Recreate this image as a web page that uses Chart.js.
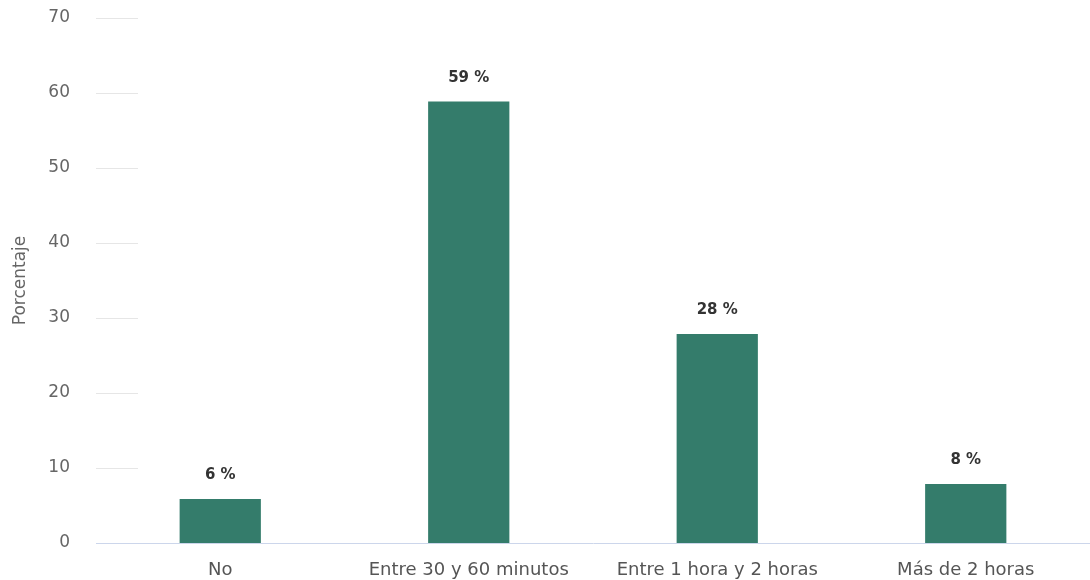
<!DOCTYPE html>
<html>
<head>
<meta charset="utf-8">
<script src="https://cdn.jsdelivr.net/npm/chart.js@4.4.1/dist/chart.umd.min.js"></script>
<style>
    html, body { margin: 0; padding: 0; background: #fff; }
    #wrap { width: 1090px; height: 580px; position: relative; }
</style>
</head>
<body>
<div id="wrap"><canvas id="chart"></canvas></div>
<script>
const categories = ['No', 'Entre 30 y 60 minutos', 'Entre 1 hora y 2 horas', 'Más de 2 horas'];
const percentages = [6, 59, 28, 8];
const yTicks = [0, 10, 20, 30, 40, 50, 60, 70];

const fontFamily = '"DejaVu Sans", Verdana, sans-serif';

// short grid stubs at the left edge of the plot, one per y tick
const gridStubs = {
    id: 'gridStubs',
    beforeDatasetsDraw(chart) {
        const ctx = chart.ctx;
        const y = chart.scales.y;
        const left = chart.chartArea.left;
        ctx.save();
        ctx.strokeStyle = '#e6e6e6';
        ctx.lineWidth = 1;
        yTicks.forEach(v => {
            if (v === 0) return;
            const py = Math.round(y.getPixelForValue(v)) + 0.5;
            ctx.beginPath();
            ctx.moveTo(left, py);
            ctx.lineTo(left + 42, py);
            ctx.stroke();
        });
        ctx.restore();
    }
};

// value labels above each bar
const barLabels = {
    id: 'barLabels',
    afterDatasetsDraw(chart) {
        const ctx = chart.ctx;
        const meta = chart.getDatasetMeta(0);
        ctx.save();
        ctx.font = 'bold 15px ' + fontFamily;
        ctx.fillStyle = '#333333';
        ctx.textAlign = 'center';
        ctx.textBaseline = 'bottom';
        meta.data.forEach((bar, i) => {
            ctx.fillText(percentages[i] + ' %', bar.x, bar.y - 15);
        });
        ctx.restore();
    }
};

const ctx = document.getElementById('chart').getContext('2d');
const chart = new Chart(ctx, {
    type: 'bar',
    data: {
        labels: categories,
        datasets: [{
            data: percentages,
            backgroundColor: '#347c6b',
            borderColor: 'rgba(255,255,255,0.35)',
            borderWidth: 1,
            barPercentage: 0.335,
            categoryPercentage: 1
        }]
    },
    options: {
        responsive: true,
        maintainAspectRatio: false,
        animation: false,
        layout: { padding: { top: 18, right: 0, left: 0, bottom: 0 } },
        plugins: {
            legend: { display: false },
            tooltip: { enabled: false }
        },
        scales: {
            x: {
                afterFit: s => { s.height = 37; s.paddingLeft = 0; s.paddingRight = 0; },
                grid: { display: false },
                border: { color: '#ccd6eb', width: 1 },
                ticks: {
                    color: '#555555',
                    padding: 9,
                    maxRotation: 0,
                    font: { family: fontFamily, size: 18 }
                }
            },
            y: {
                min: 0,
                max: 70,
                afterBuildTicks: axis => { axis.ticks = yTicks.map(v => ({ value: v })); },
                afterFit: s => { s.width = 96; s.paddingTop = 0; s.paddingBottom = 0; },
                grid: { display: false },
                border: { display: false },
                title: {
                    display: true,
                    text: 'Porcentaje',
                    color: '#666666',
                    padding: { top: 10, bottom: 0 },
                    font: { family: fontFamily, size: 17 }
                },
                ticks: {
                    color: '#666666',
                    padding: 18,
                    font: { family: fontFamily, size: 17 }
                }
            }
        }
    },
    plugins: [gridStubs, barLabels]
});
</script>
</body>
</html>
